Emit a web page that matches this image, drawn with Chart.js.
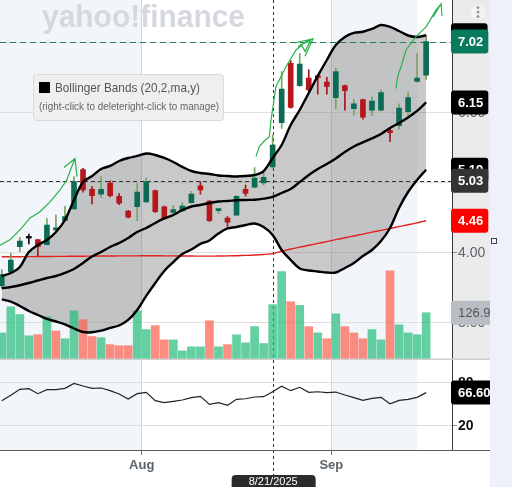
<!DOCTYPE html>
<html>
<head>
<meta charset="utf-8">
<script src="https://cdn.jsdelivr.net/npm/chart.js@4.4.0/dist/chart.umd.min.js"></script>
<style>
  html, body { margin: 0; padding: 0; background: #fff; }
  canvas { display: block; }
</style>
</head>
<body>
<canvas id="chart" width="512" height="487"></canvas>
<script>
// trading days shown (2025)
const dates = ['7/10','7/11','7/14','7/15','7/16','7/17','7/18','7/21','7/22','7/23','7/24','7/25','7/28','7/29','7/30','7/31',
  '8/1','8/4','8/5','8/6','8/7','8/8','8/11','8/12','8/13','8/14','8/15','8/18','8/19','8/20','8/21','8/22','8/25','8/26','8/27','8/28','8/29',
  '9/2','9/3','9/4','9/5','9/8','9/9','9/10','9/11','9/12','9/15','9/16'];
const monthLabels = ['Aug', 'Sep'];

const opens  = [3.53,3.73,4.09,4.21,4.19,4.12,4.33,4.46,4.63,5.19,4.91,4.84,5.00,4.81,4.60,4.66,4.73,4.89,4.66,4.58,4.60,4.72,4.96,4.74,4.605,4.50,4.54,4.91,4.94,5.00,5.23,5.86,6.71,6.39,6.50,6.53,6.44,6.22,6.39,6.06,6.19,6.04,6.04,5.75,5.82,6.02,6.45,6.54];
const highs  = [3.76,4.00,4.22,4.27,4.19,4.49,4.54,4.67,5.09,5.21,4.95,5.09,5.03,4.85,4.61,4.99,5.07,4.90,4.67,4.68,4.72,4.88,5.02,4.75,4.62,4.52,4.82,4.97,5.22,5.14,5.69,6.59,6.75,6.85,6.62,6.55,6.51,6.64,6.40,6.20,6.20,6.23,6.33,5.78,6.13,6.30,6.85,7.11];
const lows   = [3.50,3.70,4.02,4.13,3.96,4.12,4.28,4.46,4.63,4.87,4.70,4.79,4.80,4.69,4.50,4.46,4.72,4.58,4.48,4.56,4.59,4.71,4.84,4.45,4.56,4.38,4.54,4.81,4.93,4.97,5.21,5.78,6.07,6.38,6.32,6.27,6.27,6.06,6.04,5.97,5.91,5.96,6.03,5.59,5.77,5.95,6.44,6.48];
const closes = [3.69,3.90,4.17,4.21,4.09,4.40,4.36,4.52,5.02,4.90,4.82,4.91,4.82,4.71,4.51,4.87,5.02,4.59,4.49,4.62,4.67,4.84,4.90,4.46,4.62,4.44,4.81,4.85,5.07,5.08,5.54,6.34,6.08,6.70,6.33,6.505,6.38,6.59,6.32,6.13,5.94,6.17,6.29,5.72,6.07,6.22,6.50,7.02];
const volumes = [72,143,122,64,67,116,77,56,132,108,62,59,40,37,37,132,81,92,53,53,23,34,34,105,34,40,67,45,89,43,149,239,157,147,89,72,56,124,89,72,56,81,53,241,94,72,67,126.93];

const bbUpper  = [3.67,3.714,3.80,4.014,4.114,4.186,4.30,4.471,4.757,5.014,5.10,5.20,5.243,5.314,5.357,5.386,5.421,5.40,5.357,5.30,5.229,5.171,5.143,5.129,5.107,5.10,5.093,5.10,5.114,5.171,5.357,5.543,5.829,6.043,6.286,6.529,6.757,6.971,7.086,7.143,7.161,7.20,7.257,7.229,7.171,7.107,7.086,7.11];
const bbMiddle = [3.496,3.514,3.539,3.571,3.607,3.643,3.671,3.714,3.771,3.857,3.95,4.014,4.086,4.143,4.214,4.30,4.357,4.429,4.493,4.543,4.614,4.664,4.686,4.714,4.736,4.743,4.753,4.757,4.761,4.776,4.80,4.857,4.914,5.014,5.114,5.20,5.271,5.35,5.443,5.521,5.579,5.636,5.70,5.786,5.857,5.936,6.029,6.15];
const bbLower  = [3.336,3.304,3.243,3.171,3.114,3.057,3.021,2.979,2.921,2.871,2.867,2.89,2.929,2.964,3.043,3.186,3.386,3.571,3.743,3.871,3.986,4.05,4.129,4.179,4.279,4.35,4.371,4.40,4.421,4.371,4.257,4.043,3.90,3.779,3.75,3.736,3.721,3.721,3.786,3.857,3.957,4.043,4.171,4.357,4.643,4.871,5.043,5.19];
const sma200   = [3.945,3.946,3.947,3.948,3.949,3.95,3.951,3.952,3.953,3.954,3.955,3.956,3.957,3.958,3.958,3.959,3.96,3.96,3.959,3.958,3.957,3.956,3.955,3.955,3.956,3.958,3.961,3.965,3.97,3.978,3.99,4.025,4.057,4.083,4.11,4.137,4.163,4.19,4.217,4.243,4.27,4.297,4.323,4.35,4.377,4.403,4.43,4.46];
const rsiValues = [55.3,62.8,71.2,72.1,65.1,70.7,70.7,72.6,79.5,75.8,72.5,73.0,69.3,64.6,57.7,65.1,67.0,55.3,52.5,54.4,56.3,59.5,61.4,50.2,52.5,48.9,57.2,58.0,60.5,60.9,67.9,75.5,69.3,74.0,67.0,67.8,66.5,67.4,63.3,59.5,55.8,58.6,60.0,51.1,55.8,57.2,60.0,66.6];

// hand drawn arrows (day index, price)
const arrow1 = [[[-0.2,4.11],[0.91,4.19],[2.02,4.33],[3.13,4.50],[4.23,4.59],[5.34,4.73],[6.45,4.90],[7.19,5.04],[7.74,5.23],[8.11,5.35]],
                [[6.89,5.22],[8.11,5.35],[8.33,5.09]]];
const arrow2 = [[[28.16,5.38],[28.52,5.52],[29.15,5.61],[29.63,5.66],[29.82,5.90],[30.04,6.09],[30.37,6.38],[31.48,6.66],[32.59,6.90],[33.69,7.02],[34.47,7.06]],
                [[32.37,7.00],[34.47,7.06],[33.58,6.81]], [[32.8,6.95],[34.2,7.04],[33.6,6.88],[33.1,6.99]]];
const arrow3 = [[[43.66,6.35],[43.88,6.54],[44.22,6.66],[44.77,6.90],[45.88,7.09],[46.99,7.23],[48.09,7.47],[48.65,7.56]],
                [[47.76,7.37],[48.65,7.56],[48.76,7.39]]];

const crossIndex = 30;
const crossPrice = 5.03;
const priceTicks = [3, 4, 5, 6, 7];
const rsiTicks = [20, 80];

Chart.defaults.font.family = 'Arial, "Liberation Sans", sans-serif';

const pts = arr => arr.map((v, i) => ({ x: i, y: v }));
const strokes = list => list.flatMap((s, j) => {
  const p = s.map(([x, y]) => ({ x, y }));
  return j ? [{ x: s[0][0], y: null }, ...p] : p;
});
const monthTicks = dates.map((d, i) => i).filter(i => i > 0 && dates[i].split('/')[0] !== dates[i - 1].split('/')[0]).map(i => i - 0.5);
const shadeSpans = [[-1, monthTicks[0]], [monthTicks[1], 46.05]];

const bodyColors = closes.map((c, i) => c > opens[i] ? '#0b6b55' : c < opens[i] ? '#b5171b' : '#111');
const wickColors = closes.map((c, i) => c > opens[i] ? '#79a35e' : c < opens[i] ? '#a01a1a' : '#111');
const volColors = closes.map((c, i) => (i === 0 ? c >= opens[i] : c >= closes[i - 1]) ? 'rgba(40,190,125,0.72)' : 'rgba(252,98,81,0.72)');

function roundRect(ctx, x, y, w, h, r) {
  ctx.beginPath();
  ctx.moveTo(x + r, y);
  ctx.arcTo(x + w, y, x + w, y + h, r);
  ctx.arcTo(x + w, y + h, x, y + h, r);
  ctx.arcTo(x, y + h, x, y, r);
  ctx.arcTo(x, y, x + w, y, r);
  ctx.closePath();
}

const decor = {
  id: 'decor',
  beforeDraw(chart) {
    const { ctx, chartArea: a, scales: { x, y } } = chart;
    ctx.save();
    ctx.fillStyle = '#fff';
    ctx.fillRect(0, 0, chart.width, chart.height);
    ctx.fillStyle = '#f2f5f9';
    shadeSpans.forEach(([s, e]) => {
      const x0 = Math.max(a.left, x.getPixelForValue(s));
      const x1 = Math.min(a.right, x.getPixelForValue(e));
      ctx.fillRect(x0, a.top, x1 - x0, a.bottom - a.top);
    });
    ctx.fillStyle = '#ebebeb';
    ctx.fillRect(a.right, y.top, 38, y.bottom - y.top);
    ctx.fillStyle = '#eef1f9';
    ctx.fillRect(a.right + 38, 0, chart.width, chart.height);
    ctx.fillStyle = '#d5d9df';
    ctx.font = 'bold 31px Arial';
    ctx.textBaseline = 'alphabetic';
    ctx.fillText('yahoo!finance', 42, 27, 203);
    ctx.restore();
  },
  beforeDatasetsDraw(chart) {
    const { ctx, chartArea: a, scales: { x, y } } = chart;
    ctx.save();
    ctx.lineWidth = 1;
    ctx.setLineDash([6, 4]);
    ctx.strokeStyle = '#2d7a62';
    let py = Math.round(y.getPixelForValue(closes[closes.length - 1])) + 0.5;
    ctx.beginPath(); ctx.moveTo(a.left, py); ctx.lineTo(a.right, py); ctx.stroke();
    ctx.setLineDash([4, 3]);
    ctx.strokeStyle = '#333';
    py = Math.round(y.getPixelForValue(crossPrice)) + 0.5;
    ctx.beginPath(); ctx.moveTo(a.left, py); ctx.lineTo(a.right, py); ctx.stroke();
    ctx.setLineDash([3, 3]);
    const px = Math.round(x.getPixelForValue(crossIndex)) + 0.5;
    ctx.beginPath(); ctx.moveTo(px, a.top); ctx.lineTo(px, a.bottom + 26); ctx.stroke();
    ctx.restore();
  },
  afterDraw(chart) {
    const { ctx, chartArea: a, scales: { x, y, yVol, yRsi } } = chart;
    ctx.save();
    // panel separators
    ctx.strokeStyle = '#cfcfcf'; ctx.lineWidth = 1.5;
    ctx.beginPath(); ctx.moveTo(0, y.bottom); ctx.lineTo(a.right + 38, y.bottom); ctx.stroke();
    ctx.strokeStyle = '#5a5a5a'; ctx.lineWidth = 1;
    ctx.beginPath(); ctx.moveTo(0, a.bottom + 0.5); ctx.lineTo(a.right + 38, a.bottom + 0.5); ctx.stroke();

    // value tags on the right
    const last = arr => arr[arr.length - 1];
    const tags = [
      [y, last(bbUpper), last(bbUpper).toFixed(2), '#000', '#fff', true],
      [y, last(closes), last(closes).toFixed(2), '#0a7a5e', '#fff', true],
      [y, last(bbMiddle), last(bbMiddle).toFixed(2), '#000', '#fff', true],
      [y, last(bbLower), last(bbLower).toFixed(2), '#000', '#fff', true],
      [y, crossPrice, crossPrice.toFixed(2), '#333', '#fff', true],
      [y, last(sma200), last(sma200).toFixed(2), '#ff0000', '#fff', true],
      [yVol, last(volumes), last(volumes).toFixed(2), '#b9bdc4', '#555', false],
      [yRsi, last(rsiValues), last(rsiValues).toFixed(2), '#000', '#fff', true]
    ];
    ctx.save();
    ctx.beginPath(); ctx.rect(0, 0, a.right + 38, chart.height); ctx.clip();
    tags.forEach(([sc, v, t, bg, fg, bold]) => {
      const cy = sc.getPixelForValue(v);
      ctx.font = (bold ? 'bold ' : '') + '13px Arial';
      const w = ctx.measureText(t).width + 12;
      ctx.fillStyle = bg;
      roundRect(ctx, a.right - 1, cy - 12, w, 24, 3);
      ctx.fill();
      ctx.fillStyle = fg;
      ctx.textBaseline = 'middle';
      ctx.textAlign = 'left';
      ctx.fillText(t, a.right + 6, cy + 1);
    });
    ctx.restore();

    // indicator legend
    ctx.fillStyle = '#efefef'; ctx.strokeStyle = '#d9d9d9'; ctx.lineWidth = 1;
    roundRect(ctx, 33.5, 74.5, 190, 46, 3); ctx.fill(); ctx.stroke();
    ctx.fillStyle = '#000'; ctx.fillRect(39, 82, 11, 11);
    ctx.fillStyle = '#555'; ctx.font = '13px Arial'; ctx.textBaseline = 'middle'; ctx.textAlign = 'left';
    ctx.fillText('Bollinger Bands (20,2,ma,y)', 55, 88.5, 145);
    ctx.fillStyle = '#666'; ctx.font = '10px Arial';
    ctx.fillText('(right-click to deleteright-click to manage)', 39, 107.5, 180);

    // crosshair date
    const px = x.getPixelForValue(crossIndex);
    ctx.fillStyle = '#2b2b2b';
    roundRect(ctx, px - 41, a.bottom + 25, 84, 20, 4); ctx.fill();
    ctx.fillStyle = '#fff'; ctx.font = '11px Arial'; ctx.textAlign = 'center';
    ctx.fillText(dates[crossIndex] + '/2025', px + 0.5, a.bottom + 32);

    // menu dots and small handle
    ctx.fillStyle = '#f4f4f4';
    ctx.beginPath(); ctx.arc(a.right + 26, 12, 7, 0, Math.PI * 2); ctx.fill();
    ctx.fillStyle = '#9a9a9a';
    [7.5, 12, 16.5].forEach(dy => { ctx.beginPath(); ctx.arc(a.right + 26, dy, 1.5, 0, Math.PI * 2); ctx.fill(); });
    ctx.strokeStyle = '#444'; ctx.lineWidth = 1;
    ctx.strokeRect(a.right + 39.5, 238.5, 5, 5);
    ctx.restore();
  }
};

const greenLine = { type: 'line', yAxisID: 'y', borderColor: '#27b24a', borderWidth: 1.2, pointRadius: 0, tension: 0, order: 1, fill: false };

new Chart(document.getElementById('chart'), {
  type: 'bar',
  data: {
    datasets: [
      { type: 'line', label: 'upper', data: pts(bbUpper), yAxisID: 'y', borderColor: '#000', borderWidth: 2.4,
        backgroundColor: 'rgba(120,120,120,0.4)', fill: '+2', pointRadius: 0, tension: 0.35, order: 4 },
      { type: 'line', label: 'middle', data: pts(bbMiddle), yAxisID: 'y', borderColor: '#000', borderWidth: 2.4,
        pointRadius: 0, tension: 0.35, fill: false, order: 4 },
      { type: 'line', label: 'lower', data: pts(bbLower), yAxisID: 'y', borderColor: '#000', borderWidth: 2.4,
        pointRadius: 0, tension: 0.35, fill: false, order: 4 },
      { type: 'line', label: 'sma', data: pts(sma200), yAxisID: 'y', borderColor: '#e3201c', borderWidth: 1.4,
        pointRadius: 0, tension: 0.3, fill: false, order: 8 },
      { label: 'volume', data: pts(volumes), yAxisID: 'yVol', backgroundColor: volColors,
        barThickness: 8, grouped: false, order: 9 },
      { label: 'wick', data: lows.map((l, i) => ({ x: i, y: [l, highs[i]] })), yAxisID: 'y',
        backgroundColor: wickColors, barThickness: 1, grouped: false, order: 6 },
      { label: 'body', data: opens.map((o, i) => ({ x: i, y: [o, closes[i]] })), yAxisID: 'y',
        backgroundColor: bodyColors, barThickness: 5, minBarLength: 2, grouped: false, order: 5 },
      { type: 'line', label: 'rsi', data: pts(rsiValues), yAxisID: 'yRsi', borderColor: '#222', borderWidth: 1.2,
        pointRadius: 0, tension: 0, fill: false, order: 3 },
      Object.assign({ label: 'arrow1', data: strokes(arrow1) }, greenLine),
      Object.assign({ label: 'arrow2', data: strokes(arrow2) }, greenLine),
      Object.assign({ label: 'arrow3', data: strokes(arrow3) }, greenLine)
    ]
  },
  options: {
    responsive: false,
    animation: false,
    events: [],
    devicePixelRatio: 1,
    layout: { padding: { left: 0, top: 0, right: 22, bottom: 0 }, autoPadding: false },
    plugins: {
      legend: { display: false },
      tooltip: { enabled: false },
      filler: { propagate: false, drawTime: 'beforeDatasetsDraw' }
    },
    scales: {
      x: {
        type: 'linear', min: -0.196, max: 49.864, offset: false,
        afterBuildTicks: s => { s.ticks = monthTicks.map(v => ({ value: v })); },
        afterFit: s => { s.height = 37; s.paddingLeft = 0; s.paddingRight = 0; },
        ticks: { callback: (v, i) => monthLabels[i], font: { size: 13, weight: 'bold' }, color: '#5b636b', padding: 3, maxRotation: 0 },
        grid: { color: '#d3d6da', tickLength: 5, tickColor: '#777', offset: false },
        border: { display: false }
      },
      y: {
        type: 'linear', position: 'right', stack: 'panels', stackWeight: 359.3,
        min: 2.481, max: 7.614,
        afterBuildTicks: s => { s.ticks = priceTicks.map(v => ({ value: v })); },
        afterFit: s => { s.width = 38; s.paddingTop = 0; s.paddingBottom = 0; },
        ticks: { callback: v => v.toFixed(2), font: { size: 14 }, color: '#5b636b', padding: 1 },
        grid: { color: '#dedede', tickLength: 5, tickColor: '#888' },
        border: { color: '#3a3a3a' }
      },
      yRsi: {
        type: 'linear', position: 'right', stack: 'panels', stackWeight: 90.7,
        min: -13.49, max: 113.07,
        afterBuildTicks: s => { s.ticks = rsiTicks.map(v => ({ value: v })); },
        afterFit: s => { s.width = 38; s.paddingTop = 0; s.paddingBottom = 0; },
        ticks: { font: { size: 14, weight: 'bold' }, color: '#111', padding: 1 },
        grid: { color: '#dedede', tickLength: 5, tickColor: '#888' },
        border: { color: '#3a3a3a' }
      },
      yVol: {
        type: 'linear', position: 'left', display: false, min: -247.1, max: 979
      }
    }
  },
  plugins: [decor]
});
</script>
</body>
</html>
